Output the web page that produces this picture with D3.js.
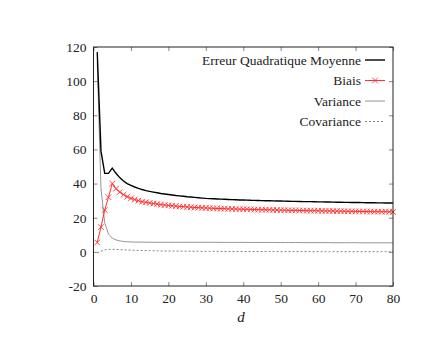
<!DOCTYPE html>
<html>
<head>
<meta charset="utf-8">
<script src="https://cdn.jsdelivr.net/npm/d3@7"></script>
<style>
  body { margin: 0; background: #fff; }
</style>
</head>
<body>
<svg id="chart" width="436" height="337"></svg>
<script>
// values, d = 1..80
const d = d3.range(1, 81);

const mse = [
  117, 59, 46, 46, 49, 46, 43.5, 41.5, 40, 39,
  38, 37.2, 36.5, 35.9, 35.4, 35, 34.6, 34.2, 33.9, 33.6,
  33.3, 33.0, 32.8, 32.6, 32.3, 32.1, 31.9, 31.7, 31.5, 31.3,
  31.2, 31.1, 31.0, 30.9, 30.8, 30.7, 30.6, 30.5, 30.4, 30.35,
  30.3, 30.2, 30.15, 30.1, 30.0, 29.95, 29.9, 29.85, 29.8, 29.75,
  29.7, 29.65, 29.6, 29.55, 29.5, 29.45, 29.4, 29.4, 29.35, 29.3,
  29.25, 29.2, 29.2, 29.15, 29.1, 29.05, 29.0, 29.0, 28.95, 28.9,
  28.9, 28.85, 28.8, 28.8, 28.75, 28.7, 28.7, 28.65, 28.65, 28.6
];

const biais = [
  5.5, 14.5, 24.5, 32, 40, 37, 35, 33.5, 32.3, 31.3,
  30.6, 30, 29.4, 29, 28.6, 28.3, 28, 27.7, 27.4, 27.2,
  27.0, 26.8, 26.6, 26.5, 26.3, 26.2, 26.0, 25.9, 25.8, 25.7,
  25.6, 25.5, 25.4, 25.35, 25.3, 25.2, 25.15, 25.1, 25.0, 24.95,
  24.9, 24.85, 24.8, 24.75, 24.7, 24.65, 24.6, 24.55, 24.5, 24.45,
  24.4, 24.35, 24.3, 24.3, 24.25, 24.2, 24.15, 24.1, 24.1, 24.05,
  24.0, 23.95, 23.95, 23.9, 23.85, 23.85, 23.8, 23.75, 23.75, 23.7,
  23.7, 23.65, 23.6, 23.6, 23.55, 23.55, 23.5, 23.5, 23.45, 23.4
];

const variance = [
  111, 37, 17, 10.5, 8, 7, 6.4, 6.1, 5.9, 5.8,
  5.75, 5.7, 5.7, 5.65, 5.65, 5.6, 5.6, 5.6, 5.6, 5.6,
  5.6, 5.6, 5.6, 5.6, 5.6, 5.6, 5.6, 5.6, 5.6, 5.6,
  5.6, 5.6, 5.6, 5.55, 5.55, 5.55, 5.55, 5.55, 5.55, 5.55,
  5.5, 5.5, 5.5, 5.5, 5.5, 5.5, 5.5, 5.5, 5.45, 5.45,
  5.45, 5.45, 5.45, 5.45, 5.45, 5.4, 5.4, 5.4, 5.4, 5.4,
  5.4, 5.4, 5.4, 5.35, 5.35, 5.35, 5.35, 5.35, 5.35, 5.35,
  5.3, 5.3, 5.3, 5.3, 5.3, 5.3, 5.3, 5.3, 5.3, 5.3
];

const covariance = [
  -0.6, 0.5, 1.1, 1.4, 1.5, 1.4, 1.3, 1.2, 1.1, 1.0,
  0.9, 0.85, 0.8, 0.75, 0.7, 0.65, 0.6, 0.55, 0.5, 0.5,
  0.45, 0.45, 0.4, 0.4, 0.4, 0.35, 0.35, 0.35, 0.3, 0.3,
  0.3, 0.3, 0.3, 0.25, 0.25, 0.25, 0.25, 0.25, 0.25, 0.2,
  0.2, 0.2, 0.2, 0.2, 0.2, 0.2, 0.2, 0.2, 0.15, 0.15,
  0.15, 0.15, 0.15, 0.15, 0.15, 0.15, 0.15, 0.15, 0.1, 0.1,
  0.1, 0.1, 0.1, 0.1, 0.1, 0.1, 0.1, 0.1, 0.1, 0.1,
  0.1, 0.1, 0.1, 0.1, 0.1, 0.1, 0.1, 0.1, 0.1, 0.1
];

const xTicks = [0, 10, 20, 30, 40, 50, 60, 70, 80];
const yTicks = [-20, 0, 20, 40, 60, 80, 100, 120];
const labels = ["Erreur Quadratique Moyenne", "Biais", "Variance", "Covariance"];

const FONT = '"Liberation Serif"';
const FS = 13.5;

const svg = d3.select('#chart');
const pLeft = 93.5, pRight = 393, pTop = 47, pBottom = 286;

const x = d3.scaleLinear().domain([0, 80]).range([pLeft, pRight]);
const y = d3.scaleLinear().domain([-20, 120]).range([pBottom, pTop]);

// axes with inward ticks on all four sides (gnuplot mirror style)
const tl = 4;
const fmt = v => String(v);
svg.append('g').attr('transform', `translate(0,${pBottom})`)
  .call(d3.axisBottom(x).tickValues(xTicks).tickFormat(fmt).tickSize(-tl).tickPadding(7).tickSizeOuter(0))
  .call(g => g.select('.domain').remove());
svg.append('g').attr('transform', `translate(0,${pTop})`)
  .call(d3.axisTop(x).tickValues(xTicks).tickSize(-tl).tickFormat('').tickSizeOuter(0))
  .call(g => g.select('.domain').remove());
svg.append('g').attr('transform', `translate(${pLeft},0)`)
  .call(d3.axisLeft(y).tickValues(yTicks).tickFormat(fmt).tickSize(-tl).tickPadding(7).tickSizeOuter(0))
  .call(g => g.select('.domain').remove());
svg.append('g').attr('transform', `translate(${pRight},0)`)
  .call(d3.axisRight(y).tickValues(yTicks).tickSize(-tl).tickFormat('').tickSizeOuter(0))
  .call(g => g.select('.domain').remove());

svg.selectAll('.tick line').attr('stroke', '#666').attr('stroke-width', 0.8);
svg.selectAll('.tick text')
  .attr('font-family', FONT).attr('font-size', FS).attr('fill', '#222');

const line = (vals) => d3.line().x((v, i) => x(d[i])).y(v => y(v))(vals);

svg.append('path').attr('d', line(covariance))
  .attr('fill', 'none').attr('stroke', '#666').attr('stroke-width', 0.8)
  .attr('stroke-dasharray', '2,2');
svg.append('path').attr('d', line(variance))
  .attr('fill', 'none').attr('stroke', '#888').attr('stroke-width', 0.9);
svg.append('path').attr('d', line(biais))
  .attr('fill', 'none').attr('stroke', '#ff3030').attr('stroke-width', 1);
svg.append('path').attr('d', line(mse))
  .attr('fill', 'none').attr('stroke', '#000').attr('stroke-width', 1.4);

// x markers on biais
const m = 2.8;
svg.append('g').selectAll('path')
  .data(biais)
  .enter()
  .append('path')
  .attr('d', (v, i) => {
    const cx = x(d[i]), cy = y(v);
    return `M${cx - m},${cy - m}L${cx + m},${cy + m}M${cx - m},${cy + m}L${cx + m},${cy - m}`;
  })
  .attr('stroke', '#ff3030').attr('stroke-width', 0.9).attr('fill', 'none');

// frame
svg.append('rect')
  .attr('x', pLeft).attr('y', pTop)
  .attr('width', pRight - pLeft).attr('height', pBottom - pTop)
  .attr('fill', 'none').attr('stroke', '#222').attr('stroke-width', 1);

// legend
const rowY = [60, 80.5, 101, 121.5];
const leg = svg.append('g');
labels.forEach((t, i) => {
  leg.append('text').attr('x', 361).attr('y', rowY[i] + 4.5)
    .attr('text-anchor', 'end').attr('font-family', FONT).attr('font-size', FS)
    .attr('fill', '#222').text(t);
});
leg.append('line').attr('x1', 365).attr('x2', 385).attr('y1', rowY[0]).attr('y2', rowY[0])
  .attr('stroke', '#000').attr('stroke-width', 1.4);
leg.append('line').attr('x1', 365).attr('x2', 385).attr('y1', rowY[1]).attr('y2', rowY[1])
  .attr('stroke', '#ff3030').attr('stroke-width', 1);
leg.append('path')
  .attr('d', `M${375 - m},${rowY[1] - m}L${375 + m},${rowY[1] + m}M${375 - m},${rowY[1] + m}L${375 + m},${rowY[1] - m}`)
  .attr('stroke', '#ff3030').attr('stroke-width', 0.9);
leg.append('line').attr('x1', 365).attr('x2', 385).attr('y1', rowY[2]).attr('y2', rowY[2])
  .attr('stroke', '#888').attr('stroke-width', 0.9);
leg.append('line').attr('x1', 365).attr('x2', 385).attr('y1', rowY[3]).attr('y2', rowY[3])
  .attr('stroke', '#666').attr('stroke-width', 0.8).attr('stroke-dasharray', '2,2');

// axis title
svg.append('text').attr('x', 241).attr('y', 322)
  .attr('text-anchor', 'middle').attr('font-family', FONT).attr('font-size', 15)
  .attr('font-style', 'italic').attr('fill', '#222')
  .text('d');
</script>
</body>
</html>
